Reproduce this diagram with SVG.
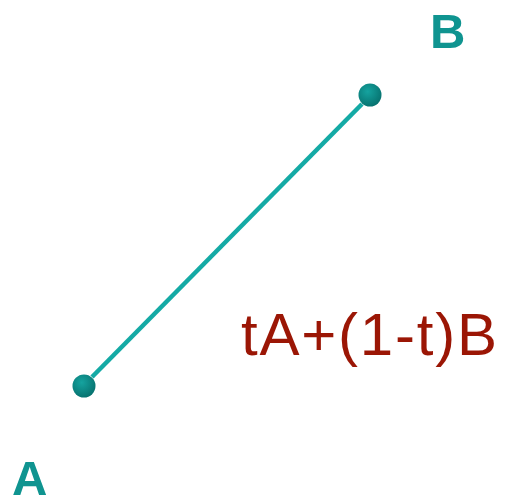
<svg xmlns="http://www.w3.org/2000/svg" width="507" height="499" viewBox="0 0 507 499">
<style>
.lbl{font-family:"Liberation Sans",Arial,sans-serif;font-weight:bold;font-size:49px;fill:#0f9490}
.expr{font-family:"Liberation Sans",Arial,sans-serif;font-size:60px;fill:#9b1605}
.seg{stroke:#14aaa5;stroke-width:4.5;fill:none}
</style>
<defs>
<radialGradient id="dot" cx="0.4" cy="0.35" r="0.7">
<stop offset="0" stop-color="#15a39f"/>
<stop offset="1" stop-color="#06706d"/>
</radialGradient>
</defs>
<g id="connectors">
<line class="seg" x1="92" y1="377" x2="362" y2="104"/>
</g>
<g id="pointA">
<circle cx="84" cy="386" r="11.5" fill="url(#dot)"/>
<text class="lbl" x="12" y="495">A</text>
</g>
<g id="pointB">
<circle cx="370" cy="95" r="11.5" fill="url(#dot)"/>
<text class="lbl" x="430" y="48">B</text>
</g>
<g id="expression">
<text class="expr" x="241" y="355" textLength="256" lengthAdjust="spacing">tA+(1-t)B</text>
</g>
</svg>
